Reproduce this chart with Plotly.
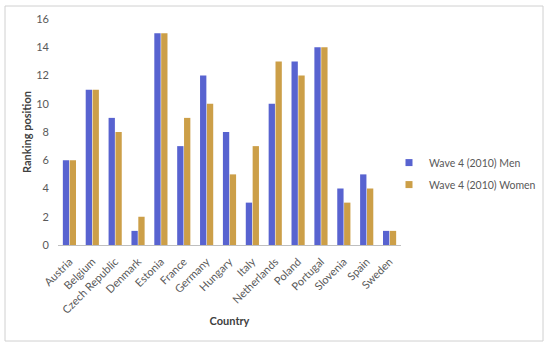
import plotly.graph_objects as go

countries = ["Austria", "Belgium", "Czech Republic", "Denmark", "Estonia", "France",
             "Germany", "Hungary", "Italy", "Netherlands", "Poland", "Portugal",
             "Slovenia", "Spain", "Sweden"]
men = [6, 11, 9, 1, 15, 7, 12, 8, 3, 10, 13, 14, 4, 5, 1]
women = [6, 11, 8, 2, 15, 9, 10, 5, 7, 13, 12, 14, 3, 4, 1]
y_ticks = [0, 2, 4, 6, 8, 10, 12, 14, 16]
series_names = ["Wave 4 (2010) Men", "Wave 4 (2010) Women"]
series_colors = ["#5863d0", "#cc9f48"]

FONT = "Lato"
GRAY = "#595959"

fig = go.Figure()
for vals, name, col in zip([men, women], series_names, series_colors):
    fig.add_trace(go.Bar(x=countries, y=vals, name=name, showlegend=False,
                         marker=dict(color=col, line=dict(width=0))))
# legend entries with small square markers
for name, col in zip(series_names, series_colors):
    fig.add_trace(go.Scatter(x=[None], y=[None], mode="markers", name=name,
                             legendgroup=name,
                             marker=dict(symbol="square", size=7, color=col)))

fig.update_layout(
    width=550, height=349,
    margin=dict(l=58, r=149, t=19, b=104, autoexpand=False),
    paper_bgcolor="white", plot_bgcolor="white",
    barmode="group", bargap=0.40, bargroupgap=0.08,
    font=dict(family=FONT, size=11, color=GRAY),
    showlegend=True,
    legend=dict(x=0.965, y=0.316, xanchor="left", yanchor="middle",
                font=dict(size=10.5, color=GRAY), itemwidth=30,
                traceorder="grouped", tracegroupgap=3,
                bgcolor="rgba(0,0,0,0)"),
    xaxis=dict(tickangle=-45, showgrid=False, showline=True, automargin=False,
               linecolor="#bfbfbf", linewidth=1, ticks="", ticklabelstandoff=5,
               tickfont=dict(size=11, color=GRAY),
               title=dict(text="<b>Country</b>", font=dict(size=11, color="#404040"),
                          standoff=2)),
    yaxis=dict(range=[0, 16], tickvals=y_ticks, showgrid=False, zeroline=False,
               showline=False, ticks="", automargin=False, ticklabelstandoff=8,
               tickfont=dict(size=11, color=GRAY),
               title=dict(text="<b>Ranking position</b>", font=dict(size=11, color="#404040"),
                          standoff=2)),
    shapes=[dict(type="rect", xref="paper", yref="paper",
                 x0=-0.1545, x1=1.414, y0=-0.4248, y1=1.0575,
                 line=dict(color="#d0d0d0", width=1), fillcolor="rgba(0,0,0,0)",
                 layer="above")],
)

fig.write_html("out.html", config={"displayModeBar": False},
               post_script="document.body.style.margin='0';")
